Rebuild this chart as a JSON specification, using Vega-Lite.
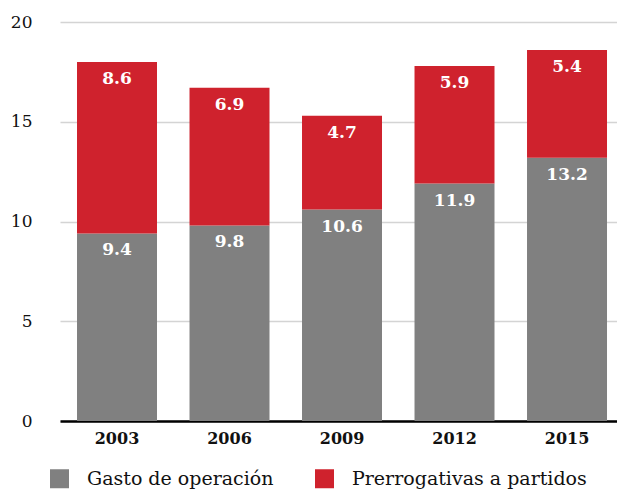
{
  "$schema": "https://vega.github.io/schema/vega-lite/v6.json",
  "autosize": "none",
  "width": 557,
  "height": 399,
  "padding": {"left": 60, "top": 22, "right": 0, "bottom": 68},
  "background": "white",
  "config": {
    "font": "DejaVu Serif",
    "view": {"stroke": null}
  },
  "data": {
    "values": [
      {"year": "2003", "tipo": "Gasto de operación", "valor": 9.4},
      {"year": "2003", "tipo": "Prerrogativas a partidos", "valor": 8.6},
      {"year": "2006", "tipo": "Gasto de operación", "valor": 9.8},
      {"year": "2006", "tipo": "Prerrogativas a partidos", "valor": 6.9},
      {"year": "2009", "tipo": "Gasto de operación", "valor": 10.6},
      {"year": "2009", "tipo": "Prerrogativas a partidos", "valor": 4.7},
      {"year": "2012", "tipo": "Gasto de operación", "valor": 11.9},
      {"year": "2012", "tipo": "Prerrogativas a partidos", "valor": 5.9},
      {"year": "2015", "tipo": "Gasto de operación", "valor": 13.2},
      {"year": "2015", "tipo": "Prerrogativas a partidos", "valor": 5.4}
    ]
  },
  "encoding": {
    "x": {
      "field": "year", "type": "nominal", "title": null,
      "scale": {"paddingInner": 0.289, "paddingOuter": 0.12, "align": 0.63},
      "axis": {
        "labelAngle": 0, "labelFontWeight": "bold", "labelFontSize": 16,
        "labelColor": "#111", "domainColor": "#000", "domainWidth": 2.5,
        "ticks": false, "labelPadding": 9
      }
    },
    "y": {
      "field": "valor", "type": "quantitative", "stack": "zero", "title": null,
      "scale": {"domain": [0, 20]},
      "axis": {
        "values": [0, 5, 10, 15, 20], "domain": false, "ticks": false,
        "labelFontSize": 17, "labelColor": "#111", "labelPadding": 28,
        "gridColor": "#d4d4d4", "gridWidth": 1.5
      }
    },
    "order": {"field": "tipo", "sort": "ascending"}
  },
  "layer": [
    {
      "mark": {"type": "bar"},
      "encoding": {
        "color": {
          "field": "tipo", "type": "nominal", "title": null,
          "scale": {"domain": ["Gasto de operación", "Prerrogativas a partidos"], "range": ["#808080", "#cf222d"]},
          "legend": {
            "orient": "none", "legendX": -10, "legendY": 447,
            "direction": "horizontal", "symbolType": "square", "symbolSize": 361,
            "symbolStrokeWidth": 0, "labelFontSize": 19, "labelColor": "#111",
            "labelOffset": 18, "columnPadding": 41, "symbolOpacity": 1, "labelLimit": 0
          }
        }
      }
    },
    {
      "mark": {"type": "text", "baseline": "alphabetic", "dy": 22, "color": "white", "fontWeight": "bold", "fontSize": 17},
      "encoding": {
        "text": {"field": "valor", "type": "quantitative", "format": ".1f"},
        "detail": {"field": "tipo"}
      }
    }
  ]
}
